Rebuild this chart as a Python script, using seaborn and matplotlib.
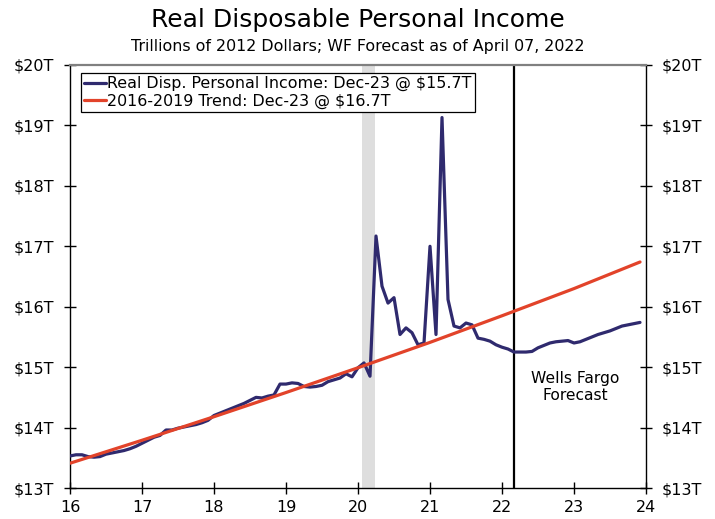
import numpy as np
import pandas as pd
import matplotlib
matplotlib.use("Agg")
import matplotlib.pyplot as plt
import seaborn as sns

# Real disposable personal income, trillions of 2012 dollars, monthly (Jan-2016 .. Dec-2023)
start_year, start_month = 2016, 1
rdpi = [
    # 2016
    13.53, 13.55, 13.55, 13.52, 13.51, 13.52, 13.56, 13.58, 13.60, 13.62, 13.65, 13.69,
    # 2017
    13.74, 13.79, 13.84, 13.87, 13.96, 13.96, 13.99, 14.01, 14.03, 14.05, 14.08, 14.12,
    # 2018
    14.20, 14.24, 14.28, 14.32, 14.36, 14.40, 14.45, 14.50, 14.49, 14.52, 14.54, 14.72,
    # 2019
    14.72, 14.74, 14.73, 14.68, 14.67, 14.68, 14.70, 14.76, 14.79, 14.82, 14.89, 14.84,
    # 2020
    14.99, 15.07, 14.85, 17.17, 16.34, 16.06, 16.15, 15.54, 15.65, 15.57, 15.37, 15.40,
    # 2021
    17.00, 15.54, 19.13, 16.12, 15.68, 15.65, 15.73, 15.70, 15.48, 15.46, 15.43, 15.37,
    # 2022
    15.33, 15.30, 15.25, 15.25, 15.25, 15.26, 15.32, 15.36, 15.40, 15.42, 15.43, 15.44,
    # 2023
    15.40, 15.42, 15.46, 15.50, 15.54, 15.57, 15.60, 15.64, 15.68, 15.70, 15.72, 15.74,
]

# 2016-2019 trend, year-start values through Dec-23
trend_x = [16.0, 17.0, 18.0, 19.0, 20.0, 21.0, 22.0, 23.0, 23.917]
trend_y = [13.41, 13.79, 14.18, 14.58, 14.99, 15.41, 15.85, 16.30, 16.74]

recession = (20.06, 20.235)
forecast_start = 22.167

y_ticks = [13, 14, 15, 16, 17, 18, 19, 20]
x_ticks = [16, 17, 18, 19, 20, 21, 22, 23, 24]

label_rdpi = "Real Disp. Personal Income: Dec-23 @ $15.7T"
label_trend = "2016-2019 Trend: Dec-23 @ $16.7T"

# month-start positions on a two-digit-year axis
months = np.arange(len(rdpi))
x_rdpi = (start_year - 2000) + (start_month - 1 + months) / 12.0
df = pd.DataFrame({"x": x_rdpi, "y": rdpi})
df_trend = pd.DataFrame({"x": trend_x, "y": trend_y})

sns.set_style("white")
plt.rcParams["font.family"] = ["DejaVu Sans"]
plt.rcParams["text.color"] = "black"

fig = plt.figure(figsize=(7.15, 5.19), dpi=100)
ax = fig.add_axes([0.0979, 0.0597, 0.8056, 0.8151])

navy = "#2f2a6e"
red = "#e2432a"

ax.axvspan(*recession, color="#dedede", lw=0, zorder=0)
ax.axvline(forecast_start, color="black", lw=1.6, zorder=1)

sns.lineplot(data=df, x="x", y="y", ax=ax, color=navy, lw=2.3, label=label_rdpi, zorder=3)
sns.lineplot(data=df_trend, x="x", y="y", ax=ax, color=red, lw=2.3, label=label_trend, zorder=4)

ax.set_xlim(16, 24)
ax.set_ylim(13, 20)
ax.set_xticks(x_ticks)
ax.set_xticklabels([str(t) for t in x_ticks])
ax.set_yticks(y_ticks)
ax.set_yticklabels([f"${t}T" for t in y_ticks])
ax.set_xlabel("")
ax.set_ylabel("")

ax.tick_params(axis="both", direction="inout", length=9, width=1, labelsize=11.5,
               colors="black", labelcolor="black")
ax.tick_params(axis="y", left=True, right=True, labelleft=True, labelright=True, pad=7)
ax.tick_params(axis="x", bottom=True, pad=4)

for side in ["left", "right", "bottom"]:
    ax.spines[side].set_color("black")
    ax.spines[side].set_linewidth(1.0)
ax.spines["top"].set_color("#808080")
ax.spines["top"].set_linewidth(1.6)

leg = ax.legend(loc="upper left", bbox_to_anchor=(0.019, 0.981), fontsize=11.4,
                frameon=True, fancybox=False, framealpha=1, edgecolor="black",
                handlelength=1.4, handletextpad=0.05, borderpad=0.2, labelspacing=0.15,
                borderaxespad=0)
leg.get_frame().set_linewidth(0.9)
for t in leg.get_texts():
    t.set_color("black")

ax.text(23.02, 14.67, "Wells Fargo\nForecast", ha="center", va="center",
        fontsize=11.2, linespacing=1.2, color="black")

fig.text(0.5, 0.962, "Real Disposable Personal Income", ha="center", va="center",
         fontsize=18, color="black")
fig.text(0.5, 0.911, "Trillions of 2012 Dollars; WF Forecast as of April 07, 2022",
         ha="center", va="center", fontsize=11.4, color="black")

fig.savefig("out.png", dpi=100)
